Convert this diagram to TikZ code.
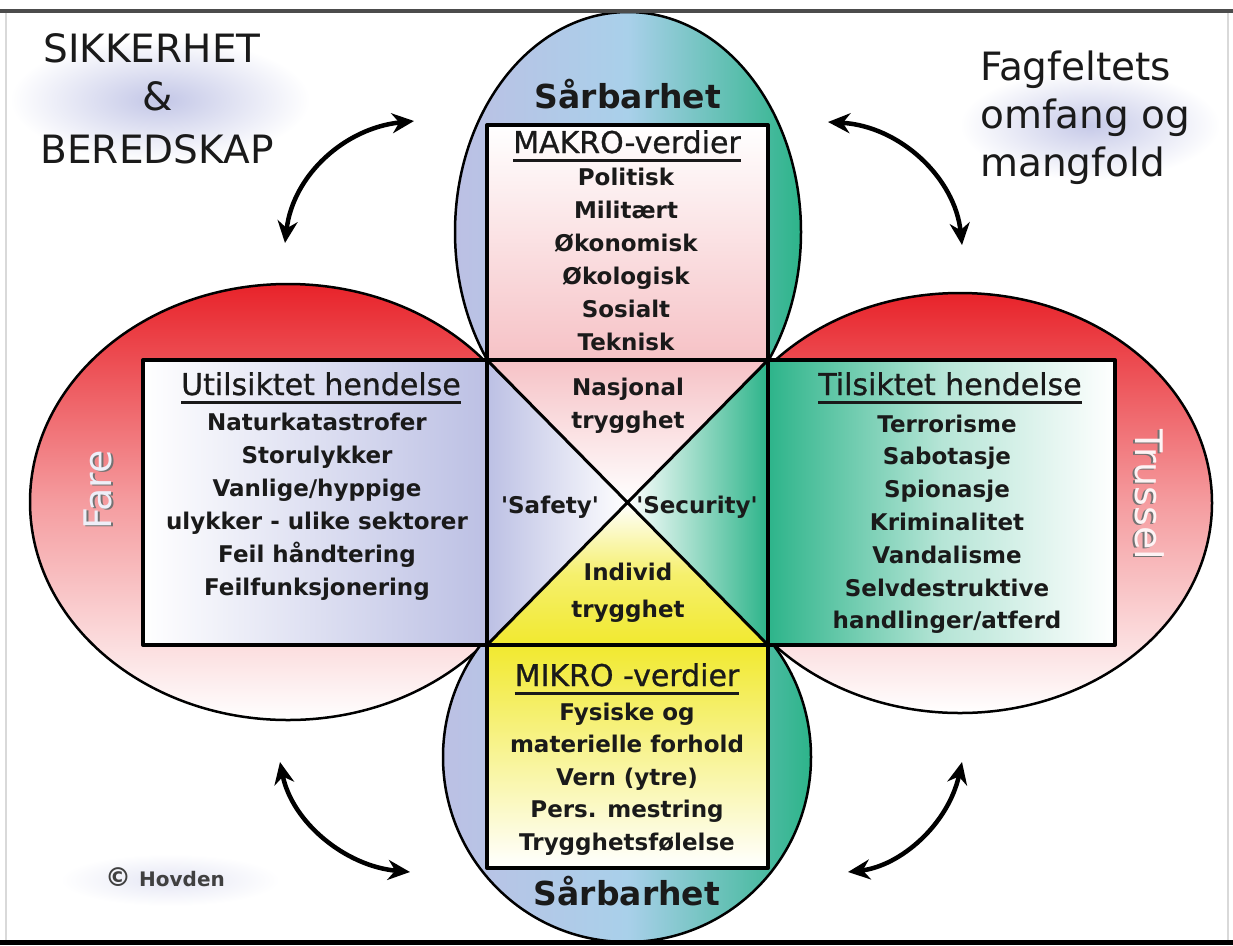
\documentclass[tikz,border=0pt]{standalone}
\usepackage{fontspec}
\setmainfont{DejaVu Sans}
\newfontfamily\medfont[FakeBold=0.9]{DejaVu Sans}
\usetikzlibrary{arrows.meta}

\definecolor{redfill}{HTML}{E8232A}
\definecolor{lav}{HTML}{BCC0E4}
\definecolor{skyb}{HTML}{A9D0EA}
\definecolor{tealgr}{HTML}{2DB48A}
\definecolor{pinkf}{HTML}{F6C2C6}
\definecolor{yel}{HTML}{F1E92F}
\definecolor{ink}{HTML}{1A1A1A}

% heavy underline for the box headings
\newcommand\heavyul[1]{\setbox0=\hbox{#1}\rlap{\rule[-8.5pt]{\wd0}{3pt}}\box0}

\begin{document}
\begin{tikzpicture}[x=1pt,y=-1pt,line join=round,
  item/.style={font=\fontsize{23}{28}\selectfont\bfseries,text=ink,anchor=base,inner sep=0pt},
  head/.style={font=\medfont\fontsize{30}{36}\selectfont,text=ink,anchor=base,inner sep=0pt},
  vuln/.style={font=\fontsize{33}{40}\selectfont\bfseries,text=ink,anchor=base,inner sep=0pt},
  title/.style={font=\fontsize{39}{47}\selectfont,text=ink,anchor=base,inner sep=0pt},
  sidelabel/.style={font=\fontsize{38}{44}\selectfont,inner sep=0pt},
  outline/.style={draw=black,line width=2.5pt},
  boxline/.style={draw=black,line width=4pt},
  swing/.style={line width=4.5pt,{Stealth[length=22pt,width=20pt]}-{Stealth[length=22pt,width=20pt]}}]

% page
\fill[white] (0,0) rectangle (1233,945);
\useasboundingbox (0,0) rectangle (1233,945);

% soft glows behind the corner titles
\shade[inner color=lav!90, outer color=white] (160,100) ellipse [x radius=150pt, y radius=62pt];
\shade[inner color=lav!85, outer color=white] (1090,125) ellipse [x radius=130pt, y radius=55pt];
\shade[inner color=lav!40, outer color=white] (170,880) ellipse [x radius=110pt, y radius=26pt];

% side ellipses: Fare / Trussel
\draw[outline, top color=redfill, bottom color=white, middle color=redfill!45]
  (288,502) ellipse [x radius=258pt, y radius=218pt];
\draw[outline, top color=redfill, bottom color=white, middle color=redfill!45]
  (960,503) ellipse [x radius=252pt, y radius=210pt];

% upper and lower ellipses: Sårbarhet
\draw[outline, left color=lav, right color=tealgr, middle color=skyb]
  (628,232) ellipse [x radius=173pt, y radius=220pt];
\draw[outline, left color=lav, right color=tealgr, middle color=skyb]
  (627,757) ellipse [x radius=184pt, y radius=185pt];

% the four boxes
\draw[boxline, top color=white, bottom color=pinkf] (487,125) rectangle (768,360);
\draw[boxline, top color=yel, bottom color=white] (487,645) rectangle (768,868);
\draw[boxline, left color=white, right color=lav] (143,360) rectangle (487,645);
\draw[boxline, left color=tealgr, right color=white, middle color=tealgr!35] (768,360) rectangle (1115,645);

% central square split by its diagonals
\coordinate (c1) at (487,360);
\coordinate (c2) at (768,360);
\coordinate (c3) at (768,645);
\coordinate (c4) at (487,645);
\coordinate (cm) at (627.5,502.5);
\shade[top color=pinkf, bottom color=white] (c1) -- (c2) -- (cm) -- cycle;
\shade[left color=lav, right color=white] (c1) -- (cm) -- (c4) -- cycle;
\shade[left color=white, right color=tealgr] (c2) -- (cm) -- (c3) -- cycle;
\shade[top color=white, bottom color=yel, middle color=yel!70] (c4) -- (cm) -- (c3) -- cycle;
\draw[boxline] (c1) rectangle (c3);
\draw[line width=3pt] (c1) -- (c3) (c2) -- (c4);

% corner titles
\node[title] (t1) at (152,62) {SIKKERHET};
\node[title] (t2) at (158,110) {\&};
\node[title] (t3) at (157,163) {BEREDSKAP};
\node[title,anchor=base west] (f1) at (980,80) {Fagfeltets};
\node[title,anchor=base west] (f2) at (980,128) {omfang og};
\node[title,anchor=base west] (f3) at (980,176) {mangfold};
\node[anchor=base west,inner sep=0pt,font=\fontsize{20}{24}\selectfont\bfseries,text=black!75]
  (cr) at (105,886) {{\fontsize{26}{28}\selectfont ©}\hspace{8pt}Hovden};

% side labels
\node[sidelabel,rotate=90,text=black!55] (fares) at (100,491) {Fare};
\node[sidelabel,rotate=90,text=white!75!lav] (fare) at (98,490) {Fare};
\node[sidelabel,rotate=-90,text=black!55] (trussels) at (1148,496) {Trussel};
\node[sidelabel,rotate=-90,text=white!80!pinkf] (trussel) at (1150,495) {Trussel};

% upper box
\node[vuln] (sv1) at (628,108) {Sårbarhet};
\node[head] (mh) at (627,153) {\heavyul{MAKRO-verdier}};
\foreach \t [count=\i] in {Politisk,Militært,Økonomisk,Økologisk,Sosialt,Teknisk}
  \node[item] (m\i) at (626,{152+33*\i}) {\t};

% left box
\node[head] (lh) at (321,395) {\heavyul{Utilsiktet hendelse}};
\foreach \t [count=\i] in {Naturkatastrofer,Storulykker,Vanlige/hyppige,ulykker - ulike sektorer,Feil håndtering,Feilfunksjonering}
  \node[item] (l\i) at (317,{397+33*\i}) {\t};

% right box
\node[head] (rh) at (950,395) {\heavyul{Tilsiktet hendelse}};
\foreach \t [count=\i] in {Terrorisme,Sabotasje,Spionasje,Kriminalitet,Vandalisme,Selvdestruktive,handlinger/atferd}
  \node[item] (r\i) at (947,{399.2+32.8*\i}) {\t};

% lower box
\node[head] (mk) at (627,686) {\heavyul{MIKRO -verdier}};
\foreach \t [count=\i] in {Fysiske og,materielle forhold,Vern (ytre),Pers. mestring,Trygghetsfølelse}
  \node[item] (k\i) at (627,{687.5+32.5*\i}) {\t};
\node[vuln] (sv2) at (627,905) {Sårbarhet};

% centre square labels
\node[item] (n1) at (628,395) {Nasjonal};
\node[item] (n2) at (628,428) {trygghet};
\node[item] (sa) at (550,513) {\textquotesingle Safety\textquotesingle};
\node[item] (se) at (697,513) {\textquotesingle Security\textquotesingle};
\node[item] (i1) at (628,580) {Individ};
\node[item] (i2) at (628,617) {trygghet};

% curved two-way arrows
\coordinate (tlA) at (285,243);
\coordinate (tlB) at (414,121);
\coordinate (trA) at (828,122);
\coordinate (trB) at (962,245);
\coordinate (blA) at (280,762);
\coordinate (blB) at (410,872);
\coordinate (brA) at (962,762);
\coordinate (brB) at (848,872);
\draw[swing] (tlA) .. controls (293,175) and (345,128) .. (tlB);
\draw[swing] (trA) .. controls (900,126) and (955,178) .. (trB);
\draw[swing] (blA) .. controls (292,822) and (345,866) .. (blB);
\draw[swing] (brA) .. controls (948,825) and (900,866) .. (brB);

% frame
\draw[line width=1.2pt, draw=black!15] (6,11) -- (6,940) (1228,11) -- (1228,940);
\draw[line width=3.5pt, draw=black!70] (0,11) -- (1233,11);
\fill[black] (0,940) rectangle (1233,945);
\end{tikzpicture}
\end{document}
